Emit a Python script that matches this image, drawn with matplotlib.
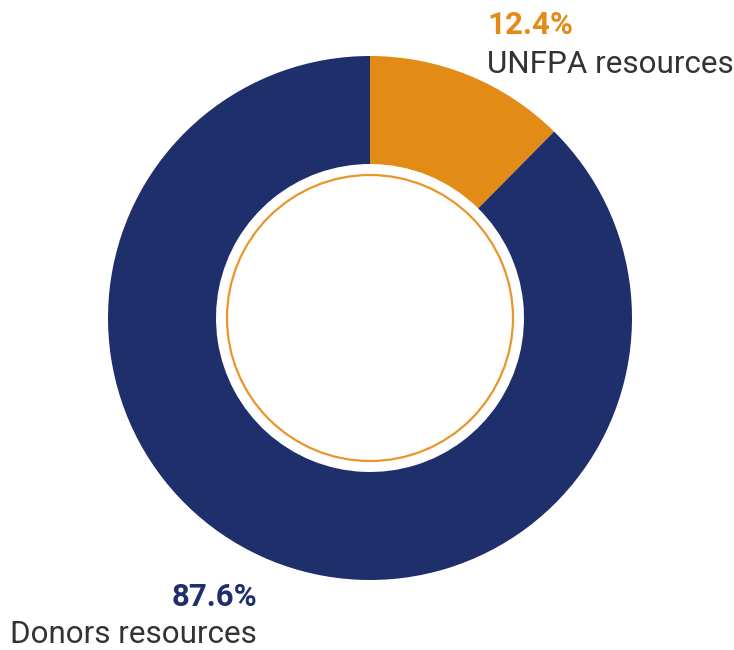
import matplotlib
matplotlib.use("Agg")
import matplotlib.pyplot as plt
from matplotlib.patches import Circle

labels = ["UNFPA resources", "Donors resources"]
values = [12.4, 87.6]
pct_labels = ["12.4%", "87.6%"]
colors = ["#E38B17", "#1F2F6B"]

W, H = 734, 650
fig = plt.figure(figsize=(W / 100, H / 100), dpi=100)
ax = fig.add_axes([0, 0, 1, 1])
ax.set_xlim(0, W)
ax.set_ylim(0, H)
ax.set_aspect("equal")
ax.axis("off")

cx, cy = 370, H - 318
R = 262
ax.pie(values, colors=colors, startangle=90, counterclock=False,
       center=(cx, cy), radius=R,
       wedgeprops=dict(width=R - 154, linewidth=0))
ax.set_xlim(0, W)
ax.set_ylim(0, H)
ax.add_patch(Circle((cx, cy), 143, fill=False, edgecolor="#E8962A", linewidth=1.6))

font = "Roboto"
ax.text(487, H - 34, pct_labels[0], color=colors[0], fontsize=22.5, fontweight="bold",
        family=font, ha="left", va="baseline")
ax.text(487, H - 73, labels[0], color="#333333", fontsize=22.6, fontweight="normal",
        family=font, ha="left", va="baseline")
ax.text(257, H - 606, pct_labels[1], color=colors[1], fontsize=22.5, fontweight="bold",
        family=font, ha="right", va="baseline")
ax.text(257, H - 643, labels[1], color="#333333", fontsize=22.6, fontweight="normal",
        family=font, ha="right", va="baseline")

fig.savefig("out.png", dpi=100, facecolor="white")
